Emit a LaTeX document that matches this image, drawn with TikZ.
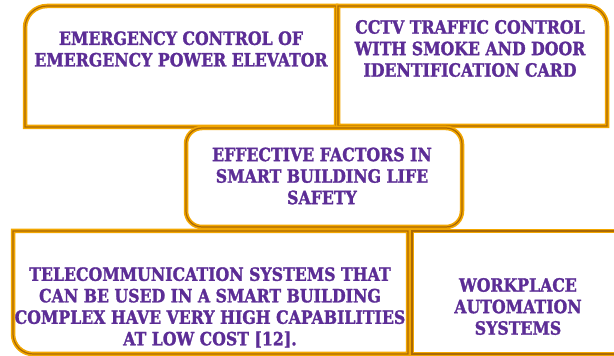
\documentclass[tikz,border=0pt]{standalone}
\usepackage{fontspec}
\setmainfont{DejaVu Serif}[FakeStretch=0.86, BoldFeatures={FakeBold=1.5}]

\definecolor{goldframe}{RGB}{242,166,0}
\definecolor{goldshade}{RGB}{170,105,5}
\definecolor{factorpurple}{RGB}{92,45,150}

\begin{document}
\begin{tikzpicture} [
    x=1pt, y=1pt,
    frame/.style    = { draw=goldframe, line width=4.5pt, fill=white,
                        postaction={draw=goldshade, line width=1.2pt} },
    label/.style    = { text=factorpurple, align=center,
                        font=\fontsize{18.3}{21.5}\selectfont\bfseries },
  ]

  \useasboundingbox (0,0) rectangle (614,356);
  \clip (0,0) rectangle (614,356);

  % Define the frames
  \path [frame] (25,229) -- (25,328) arc[start angle=180, end angle=90, radius=22]
                -- (336,350) -- (336,229) -- cycle;
  \path [frame] (338,230) -- (338,350) -- (587,350)
                arc[start angle=90, end angle=0, radius=20] -- (607,230) -- cycle;
  \path [frame] (13,125) -- (13,22) arc[start angle=180, end angle=270, radius=20]
                -- (408,2) -- (408,125) -- cycle;
  \path [frame] (412,125) -- (412,2) -- (630,2) -- (630,125) -- cycle;
  \path [frame, rounded corners=16] (186,129) rectangle (462,228);

  % Define the labels
  \node[label](elevator) at (181,307) {EMERGENCY CONTROL OF\\EMERGENCY POWER ELEVATOR};
  \node[label](cctv) at (470,307.5) {CCTV TRAFFIC CONTROL\\WITH SMOKE AND DOOR\\IDENTIFICATION CARD};
  \node[label](factors) at (322,180) {EFFECTIVE FACTORS IN\\SMART BUILDING LIFE\\SAFETY};
  \node[label](telecom) at (210,48.5) {TELECOMMUNICATION SYSTEMS THAT\\CAN BE USED IN A SMART BUILDING\\COMPLEX HAVE VERY HIGH CAPABILITIES\\AT LOW COST [12].};
  \node[label](workplace) at (518,49.5) {WORKPLACE\\AUTOMATION\\SYSTEMS};
\end{tikzpicture}
\end{document}
